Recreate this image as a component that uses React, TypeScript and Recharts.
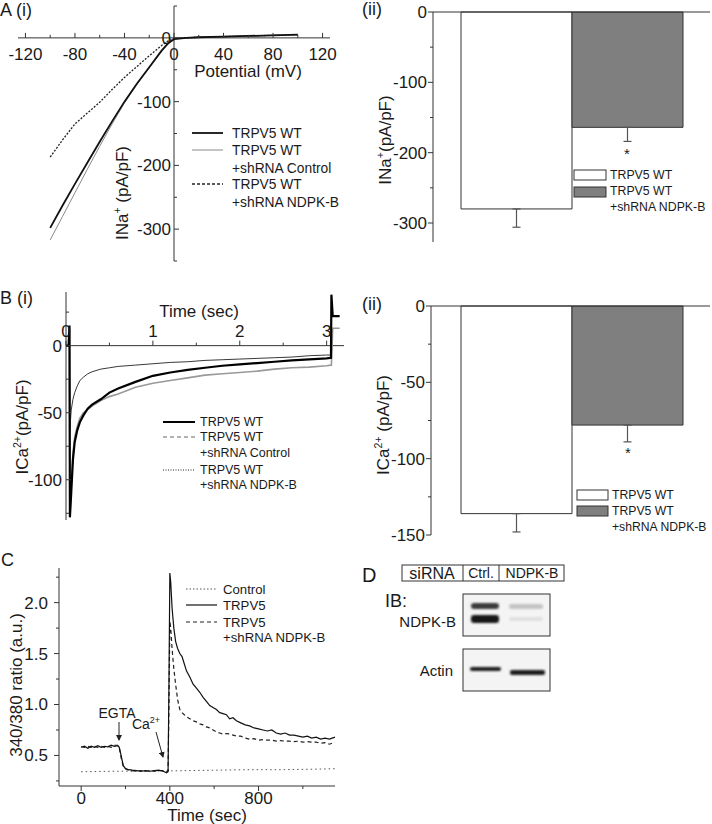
import React from "react";
import {
  LineChart,
  Line,
  BarChart,
  Bar,
  Cell,
  ErrorBar,
  XAxis,
  YAxis,
  ReferenceLine,
} from "recharts";

const FONT = "'Liberation Sans', Arial, Helvetica, sans-serif";
const AXIS = "#333";
const INK = "#1a1a1a";

// A (i): I/V relation of the Na+ current
const ivVoltage = [-100, -90, -80, -70, -60, -50, -40, -30, -20, -10, -5, 0, 10, 20, 40, 60, 80, 100];
const ivWT = [-298, -263, -229, -196, -163, -131, -100, -72, -46, -20, -9, -2, 0, 1, 2, 3, 4, 5];
const ivShControl = [-317, -280, -243, -206, -170, -135, -102, -73, -47, -21, -10, -2, 0, 1, 2, 3, 4, 5];
const ivShNdpk = [-187, -160, -135, -118, -101, -81, -62, -45, -28, -12, -5, -1, 0, 1, 2, 3, 4, 5];
const ivXTicks = [-120, -100, -80, -60, -40, -20, 0, 20, 40, 60, 80, 100, 120];
const ivXLabels = [-120, -80, -40, 0, 40, 80, 120];
const ivYTicks = [-350, -300, -250, -200, -150, -100, -50, 0, 50];
const ivYLabels = [-300, -200, -100, 0];

// A (ii) / B (ii): mean current densities
const groups = ["TRPV5 WT", "TRPV5 WT +shRNA NDPK-B"];
const inaMean = [-280, -164];
const inaSem = [26, 20];
const inaTicks = [-300, -250, -200, -150, -100, -50, 0];
const inaLabels = [-300, -200, -100, 0];
const icaMean = [-136, -78];
const icaSem = [12, 11];
const icaTicks = [-150, -125, -100, -75, -50, -25, 0];
const icaLabels = [-150, -100, -50, 0];

// B (i): Ca2+ current traces
const tSec = [0, 0.03, 0.04, 0.045, 0.06, 0.08, 0.1, 0.13, 0.16, 0.2, 0.25, 0.3, 0.4, 0.5, 0.6, 0.8, 1.0, 1.2, 1.4, 1.6, 1.8, 2.0, 2.2, 2.4, 2.6, 2.8, 3.0, 3.05, 3.055, 3.07, 3.15];
const caWT = [0, 0, 15, -128, -110, -85, -72, -63, -57, -52, -47, -44, -40, -35, -32, -27, -22.5, -20, -18, -16.5, -15, -14, -13, -12, -11, -10.3, -9.5, -9, 38, 22, 22];
const caShControl = [0, 0, 12, -126, -105, -80, -68, -60, -54, -50, -47.5, -45, -41, -38, -36, -31, -28, -26, -24, -22, -21, -20, -19, -17.5, -16.5, -16, -15, -14.5, -14.5, 13, 13];
const caShNdpk = [0, 0, 8, -62, -48, -40, -35, -30, -26, -23.5, -21, -19.5, -17.5, -16.5, -15.5, -14.5, -13.5, -12.5, -12, -11, -10.5, -10, -9.5, -9, -8.5, -7.5, -7, -7, null, null, null];
const caXTicks = [0, 0.5, 1, 1.5, 2, 2.5, 3];
const caXLabels = [0, 1, 2, 3];
const caYTicks = [-125, -100, -75, -50, -25, 0, 25];
const caYLabels = [-100, -50, 0];

// C: Fura-2 340/380 ratio
const fTimeCtrl = [0, 150, 300, 450, 600, 750, 900, 1050, 1145];
const fCtrl = [0.34, 0.345, 0.345, 0.35, 0.355, 0.36, 0.36, 0.365, 0.37];
const fTime = [0, 15, 30, 45, 60, 75, 90, 105, 120, 135, 150, 165, 172, 180, 190, 200, 215, 230, 250, 270, 290, 310, 330, 350, 370, 385, 392, 396, 400, 404, 410, 418, 426, 435, 445, 455, 465, 475, 490, 505, 520, 535, 550, 565, 580, 595, 610, 625, 640, 655, 670, 685, 700, 720, 740, 760, 780, 800, 820, 840, 860, 880, 900, 920, 940, 960, 980, 1000, 1020, 1040, 1060, 1080, 1100, 1120, 1145];
const fTrpv5 = [0.58, 0.59, 0.57, 0.59, 0.58, 0.595, 0.58, 0.59, 0.585, 0.6, 0.59, 0.595, 0.58, 0.5, 0.4, 0.37, 0.36, 0.355, 0.35, 0.345, 0.35, 0.345, 0.35, 0.355, 0.345, 0.33, 0.34, 1.2, 2.29, 2.2, 1.95, 1.75, 1.62, 1.55, 1.5, 1.47, 1.4, 1.33, 1.27, 1.2, 1.16, 1.12, 1.07, 1.03, 0.99, 0.97, 0.95, 0.92, 0.91, 0.9, 0.86, 0.87, 0.84, 0.82, 0.8, 0.79, 0.77, 0.76, 0.75, 0.74, 0.75, 0.72, 0.71, 0.72, 0.7, 0.7, 0.69, 0.68, 0.69, 0.67, 0.68, 0.66, 0.67, 0.66, 0.68];
const fNdpk = [0.585, 0.58, 0.59, 0.58, 0.59, 0.58, 0.59, 0.58, 0.59, 0.58, 0.6, 0.6, 0.57, 0.48, 0.39, 0.37, 0.355, 0.35, 0.345, 0.35, 0.345, 0.35, 0.345, 0.35, 0.35, 0.34, 0.35, 1.0, 1.82, 1.75, 1.55, 1.35, 1.2, 1.05, 0.95, 0.92, 0.9, 0.88, 0.86, 0.84, 0.83, 0.81, 0.8, 0.78, 0.77, 0.75, 0.73, 0.72, 0.71, 0.715, 0.71, 0.7, 0.69, 0.69, 0.67, 0.66, 0.665, 0.65, 0.655, 0.65, 0.65, 0.64, 0.645, 0.64, 0.64, 0.635, 0.64, 0.63, 0.635, 0.63, 0.63, 0.62, 0.625, 0.61, 0.63];
const fXTicks = [0, 200, 400, 600, 800, 1000];
const fXLabels = [0, 400, 800];
const fYTicks = [0.25, 0.5, 0.75, 1, 1.25, 1.5, 1.75, 2, 2.25];
const fYLabels = [0.5, 1, 1.5, 2];

const pairs = (xs: number[], ys: (number | null)[]) => xs.map((x, i) => ({ x, y: ys[i] }));
const barRows = (mean: number[], sem: number[]) =>
  groups.map((g, i) => ({ group: g, mean: mean[i], err: [sem[i], 0] }));

type TickSpec = {
  axis: "x" | "y";
  shift: number; // from the plot edge to where the axis line is drawn
  dir: 1 | -1; // x: +1 points down, y: +1 points right
  majors: number[];
  labelOffset: number; // x: baseline offset from the line, y: gap to the label
  fmt?: (v: number) => string;
};

function makeTick(s: TickSpec) {
  return (p: any) => {
    const v = p.payload.value as number;
    const major = s.majors.includes(v);
    const len = (major ? 5 : 3) * s.dir;
    const label = major ? (s.fmt ? s.fmt(v) : String(v)) : null;
    if (s.axis === "x") {
      const y = p.y + s.shift;
      return (
        <g>
          <line x1={p.x} x2={p.x} y1={y} y2={y + len} stroke={AXIS} />
          {label !== null && (
            <text x={p.x} y={y + s.labelOffset} textAnchor="middle" fontSize={17} fontFamily={FONT} fill={INK}>
              {label}
            </text>
          )}
        </g>
      );
    }
    const x = p.x + s.shift;
    return (
      <g>
        <line x1={x} x2={x + len} y1={p.y} y2={p.y} stroke={AXIS} />
        {label !== null && (
          <text x={x - s.labelOffset} y={p.y} dy="0.35em" textAnchor="end" fontSize={17} fontFamily={FONT} fill={INK}>
            {label}
          </text>
        )}
      </g>
    );
  };
}

// plot boxes (margins are to the plot area; each axis takes 1px of it)
const A1 = { w: 360, h: 270, m: { top: 6, right: 30, bottom: 9, left: 18 }, x: [-126, 126], y: [-350, 50] };
const B1 = { w: 360, h: 270, m: { top: 12, right: 16, bottom: 30, left: 66 }, x: [0, 3.2], y: [-130, 40] };
const plotW = (c: typeof A1) => c.w - c.m.left - c.m.right;
const plotH = (c: typeof A1) => c.h - c.m.top - c.m.bottom;

function IVChart() {
  const xShift = (plotW(A1) * (0 - A1.x[0])) / (A1.x[1] - A1.x[0]);
  const yShift = (plotH(A1) * (0 - A1.y[0])) / (A1.y[1] - A1.y[0]);
  const m = { ...A1.m, bottom: A1.m.bottom - 1, left: A1.m.left - 1 };
  return (
    <LineChart width={A1.w} height={A1.h} margin={m}>
      <XAxis type="number" dataKey="x" domain={A1.x} ticks={ivXTicks} interval={0} height={1}
        tickSize={0} tickMargin={0} tickLine={false} axisLine={false}
        tick={makeTick({ axis: "x", shift: -yShift, dir: -1, majors: ivXLabels, labelOffset: 22 })} />
      <YAxis type="number" domain={A1.y} ticks={ivYTicks} interval={0} width={1}
        tickSize={0} tickMargin={0} tickLine={false} axisLine={false}
        tick={makeTick({ axis: "y", shift: xShift, dir: 1, majors: ivYLabels, labelOffset: 3 })} />
      <ReferenceLine y={0} stroke={AXIS} />
      <ReferenceLine x={0} stroke={AXIS} />
      <Line data={pairs(ivVoltage, ivShNdpk)} dataKey="y" stroke="#222" strokeWidth={1.3} strokeDasharray="2 1.5" dot={false} isAnimationActive={false} />
      <Line data={pairs(ivVoltage, ivShControl)} dataKey="y" stroke="#8a8a8a" strokeWidth={1} dot={false} isAnimationActive={false} />
      <Line data={pairs(ivVoltage, ivWT)} dataKey="y" stroke="#111" strokeWidth={1.8} dot={false} isAnimationActive={false} />
    </LineChart>
  );
}

function MeanBars({ mean, sem, domain, ticks, labels, margin, pad }: any) {
  const m = { ...margin, top: margin.top - 1, left: margin.left - 1 };
  return (
    <BarChart width={352} height={270} data={barRows(mean, sem)} margin={m} barCategoryGap={0}>
      <XAxis dataKey="group" orientation="top" height={1} tick={false} tickLine={false}
        axisLine={{ stroke: AXIS }} padding={pad} />
      <YAxis type="number" domain={domain} ticks={ticks} interval={0} width={1}
        tickSize={0} tickMargin={0} tickLine={false} axisLine={{ stroke: AXIS }}
        tick={makeTick({ axis: "y", shift: 0, dir: -1, majors: labels, labelOffset: 6 })} />
      <Bar dataKey="mean" stroke="#333" strokeWidth={1} isAnimationActive={false}>
        <Cell fill="#ffffff" />
        <Cell fill="#7f7f7f" />
        <ErrorBar dataKey="err" direction="y" width={4} stroke="#555" strokeWidth={1.2} />
      </Bar>
    </BarChart>
  );
}

function CaTraceChart() {
  const yShift = (plotH(B1) * (B1.y[1] - 0)) / (B1.y[1] - B1.y[0]);
  const m = { ...B1.m, top: B1.m.top - 1, left: B1.m.left - 1 };
  return (
    <LineChart width={B1.w} height={B1.h} margin={m}>
      <XAxis type="number" dataKey="x" domain={B1.x} ticks={caXTicks} interval={0} orientation="top" height={1}
        tickSize={0} tickMargin={0} tickLine={false} axisLine={false}
        tick={makeTick({ axis: "x", shift: yShift, dir: -1, majors: caXLabels, labelOffset: -9 })} />
      <YAxis type="number" domain={B1.y} ticks={caYTicks} interval={0} width={1}
        tickSize={0} tickMargin={0} tickLine={false} axisLine={{ stroke: AXIS }}
        tick={makeTick({ axis: "y", shift: 0, dir: 1, majors: caYLabels, labelOffset: 4 })} />
      <ReferenceLine y={0} stroke={AXIS} />
      <Line data={pairs(tSec, caShNdpk)} dataKey="y" stroke="#222" strokeWidth={0.9} dot={false} isAnimationActive={false} />
      <Line data={pairs(tSec, caShControl)} dataKey="y" stroke="#999" strokeWidth={1.6} dot={false} isAnimationActive={false} />
      <Line data={pairs(tSec, caWT)} dataKey="y" stroke="#000" strokeWidth={2.2} dot={false} isAnimationActive={false} />
    </LineChart>
  );
}

function RatioChart() {
  return (
    <LineChart width={380} height={264} margin={{ top: 8, right: 45, bottom: 37, left: 58 }}>
      <XAxis type="number" dataKey="x" domain={[-100, 1145]} ticks={fXTicks} interval={0} height={1}
        tickSize={0} tickMargin={0} tickLine={false} axisLine={{ stroke: AXIS }}
        tick={makeTick({ axis: "x", shift: 0, dir: 1, majors: fXLabels, labelOffset: 18 })} />
      <YAxis type="number" domain={[0.2, 2.34]} ticks={fYTicks} interval={0} width={1}
        tickSize={0} tickMargin={0} tickLine={false} axisLine={{ stroke: AXIS }}
        tick={makeTick({ axis: "y", shift: 0, dir: -1, majors: fYLabels, labelOffset: 11, fmt: (v) => v.toFixed(1) })} />
      <Line data={pairs(fTimeCtrl, fCtrl)} dataKey="y" stroke="#555" strokeWidth={1} strokeDasharray="1.5 3" dot={false} isAnimationActive={false} />
      <Line data={pairs(fTime, fNdpk)} dataKey="y" stroke="#222" strokeWidth={1.2} strokeDasharray="4 3" dot={false} isAnimationActive={false} />
      <Line data={pairs(fTime, fTrpv5)} dataKey="y" stroke="#111" strokeWidth={1.2} dot={false} isAnimationActive={false} />
    </LineChart>
  );
}

const txt = { fontFamily: FONT, fill: INK };

function LegendRows({ x, ys, texts, size }: { x: number; ys: number[]; texts: string[]; size: number }) {
  return (
    <>
      {texts.map((t, i) => (
        <text key={i} x={x} y={ys[i]} dy="0.35em" fontSize={size} {...txt}>{t}</text>
      ))}
    </>
  );
}

function VTitle({ x, y, main, sup, rest, size = 17 }: any) {
  return (
    <text transform={`translate(${x},${y}) rotate(-90)`} textAnchor="middle" fontSize={size} {...txt}>
      {main}
      <tspan dy={-7} fontSize={size * 0.62}>{sup}</tspan>
      <tspan dy={7}>{rest}</tspan>
    </text>
  );
}

function Overlay() {
  return (
    <svg width={712} height={824} style={{ position: "absolute", left: 0, top: 0, pointerEvents: "none" }}>
      <defs>
        <marker id="ah" markerWidth={6} markerHeight={6} refX={5} refY={3} orient="auto">
          <path d="M0,0 L6,3 L0,6 z" fill="#222" />
        </marker>
        <filter id="blur" x="-20%" y="-50%" width="140%" height="200%">
          <feGaussianBlur stdDeviation="1.3" />
        </filter>
      </defs>

      {/* panel letters */}
      <text x={0} y={16} fontSize={18} {...txt}>A (i)</text>
      <text x={362} y={15} fontSize={18} {...txt}>(ii)</text>
      <text x={0} y={304} fontSize={18} {...txt}>B (i)</text>
      <text x={362} y={310} fontSize={18} {...txt}>(ii)</text>
      <text x={1} y={566} fontSize={18} {...txt}>C</text>
      <text x={362} y={582} fontSize={20} {...txt}>D</text>

      {/* A (i) */}
      <text x={248} y={77} textAnchor="middle" fontSize={17} {...txt}>Potential (mV)</text>
      <VTitle x={128} y={193} main="INa" sup="+" rest=" (pA/pF)" />
      <line x1={192} x2={223} y1={133} y2={133} stroke="#111" strokeWidth={1.8} />
      <line x1={192} x2={223} y1={150} y2={150} stroke="#8a8a8a" strokeWidth={1} />
      <line x1={192} x2={223} y1={184} y2={184} stroke="#222" strokeWidth={1.3} strokeDasharray="3 2" />
      <LegendRows x={232} size={13.8} ys={[133, 150, 168, 184, 202]} texts={["TRPV5 WT", "TRPV5 WT", "+shRNA Control", "TRPV5 WT", "+shRNA NDPK-B"]} />

      {/* A (ii) */}
      <VTitle x={391} y={140} main="INa" sup="+" rest="(pA/pF)" />
      <rect x={574} y={170} width={32} height={10} fill="#fff" stroke="#333" />
      <rect x={574} y={187} width={32} height={10} fill="#7f7f7f" stroke="#333" />
      <LegendRows x={610} size={12.3} ys={[175, 191, 207]} texts={["TRPV5 WT", "TRPV5 WT", "+shRNA NDPK-B"]} />
      <text x={627} y={159} textAnchor="middle" fontSize={15} {...txt}>*</text>

      {/* B (i) */}
      <text x={199} y={317} textAnchor="middle" fontSize={17} {...txt}>Time (sec)</text>
      <VTitle x={28} y={427} main="ICa" sup="2+" rest="(pA/pF)" />
      <line x1={163} x2={195} y1={422} y2={422} stroke="#000" strokeWidth={2} />
      <line x1={163} x2={195} y1={437} y2={437} stroke="#999" strokeWidth={1.5} strokeDasharray="4 3" />
      <line x1={163} x2={195} y1={470} y2={470} stroke="#222" strokeWidth={1} strokeDasharray="1 1.5" />
      <LegendRows x={200} size={12.5} ys={[422, 437, 453, 470, 485]} texts={["TRPV5 WT", "TRPV5 WT", "+shRNA Control", "TRPV5 WT", "+shRNA NDPK-B"]} />

      {/* B (ii) */}
      <VTitle x={389} y={425} main="ICa" sup="2+" rest=" (pA/pF)" />
      <rect x={577} y={490} width={31} height={10} fill="#fff" stroke="#333" />
      <rect x={577} y={506} width={31} height={10} fill="#7f7f7f" stroke="#333" />
      <LegendRows x={612} size={12.2} ys={[495, 511, 527]} texts={["TRPV5 WT", "TRPV5 WT", "+shRNA NDPK-B"]} />
      <text x={628} y={458} textAnchor="middle" fontSize={15} {...txt}>*</text>

      {/* C */}
      <text x={207} y={821} textAnchor="middle" fontSize={17} {...txt}>Time (sec)</text>
      <text transform="translate(22,685) rotate(-90)" textAnchor="middle" fontSize={17} {...txt}>340/380 ratio (a.u.)</text>
      <line x1={186} x2={217} y1={589} y2={589} stroke="#555" strokeWidth={1} strokeDasharray="1.5 2" />
      <line x1={186} x2={217} y1={605} y2={605} stroke="#111" strokeWidth={1.2} />
      <line x1={186} x2={217} y1={622} y2={622} stroke="#222" strokeWidth={1.2} strokeDasharray="4 3" />
      <LegendRows x={223} size={13.2} ys={[589, 605, 622, 637]} texts={["Control", "TRPV5", "TRPV5", "+shRNA NDPK-B"]} />
      <text x={117} y={718} textAnchor="middle" fontSize={14} {...txt}>EGTA</text>
      <line x1={119} x2={119} y1={722} y2={740} stroke="#222" markerEnd="url(#ah)" />
      <text x={146} y={729} textAnchor="middle" fontSize={14} {...txt}>
        Ca<tspan dy={-6} fontSize={9}>2+</tspan>
      </text>
      <line x1={156} x2={163} y1={732} y2={757} stroke="#222" markerEnd="url(#ah)" />

      {/* D */}
      <rect x={402} y={565} width={162} height={16} fill="none" stroke="#333" />
      <line x1={463} x2={463} y1={565} y2={581} stroke="#333" />
      <line x1={499} x2={499} y1={565} y2={581} stroke="#333" />
      <text x={432} y={573} dy="0.35em" textAnchor="middle" fontSize={16} {...txt}>siRNA</text>
      <text x={481} y={573} dy="0.35em" textAnchor="middle" fontSize={14} {...txt}>Ctrl.</text>
      <text x={532} y={573} dy="0.35em" textAnchor="middle" fontSize={14} {...txt}>NDPK-B</text>
      <text x={385} y={607} fontSize={18} {...txt}>IB:</text>
      <text x={456} y={622} dy="0.35em" textAnchor="end" fontSize={15} {...txt}>NDPK-B</text>
      <text x={453} y={671} dy="0.35em" textAnchor="end" fontSize={15} {...txt}>Actin</text>
      <rect x={463} y={594} width={87} height={42} fill="#f4f4f4" stroke="#333" />
      <rect x={463} y={649} width={87} height={42} fill="#f4f4f4" stroke="#333" />
      <g filter="url(#blur)">
        <rect x={471} y={603} width={28} height={6} rx={3} fill="#3a3a3a" />
        <rect x={471} y={615} width={28} height={8} rx={3} fill="#151515" />
        <rect x={509} y={604} width={34} height={5} rx={2} fill="#c4c4c4" />
        <rect x={509} y={617} width={34} height={4} rx={2} fill="#e0e0e0" />
        <rect x={470} y={667} width={31} height={4} rx={2} fill="#1c1c1c" />
        <rect x={510} y={670} width={35} height={5} rx={2} fill="#1c1c1c" />
      </g>
    </svg>
  );
}

export default function App() {
  return (
    <div style={{ position: "absolute", left: 0, top: 0, width: 712, height: 824, background: "#fff", fontFamily: FONT, overflow: "hidden" }}>
      <div style={{ position: "absolute", left: 0, top: 0 }}>
        <IVChart />
      </div>
      <div style={{ position: "absolute", left: 360, top: 0 }}>
        <MeanBars mean={inaMean} sem={inaSem} domain={[-327, 0]} ticks={inaTicks} labels={inaLabels}
          margin={{ top: 12, right: 2, bottom: 28, left: 73 }} pad={{ left: 28, right: 27 }} />
      </div>
      <div style={{ position: "absolute", left: 0, top: 280 }}>
        <CaTraceChart />
      </div>
      <div style={{ position: "absolute", left: 360, top: 280 }}>
        <MeanBars mean={icaMean} sem={icaSem} domain={[-150, 0]} ticks={icaTicks} labels={icaLabels}
          margin={{ top: 26, right: 2, bottom: 15, left: 71 }} pad={{ left: 30, right: 27 }} />
      </div>
      <div style={{ position: "absolute", left: 0, top: 560 }}>
        <RatioChart />
      </div>
      <Overlay />
    </div>
  );
}
